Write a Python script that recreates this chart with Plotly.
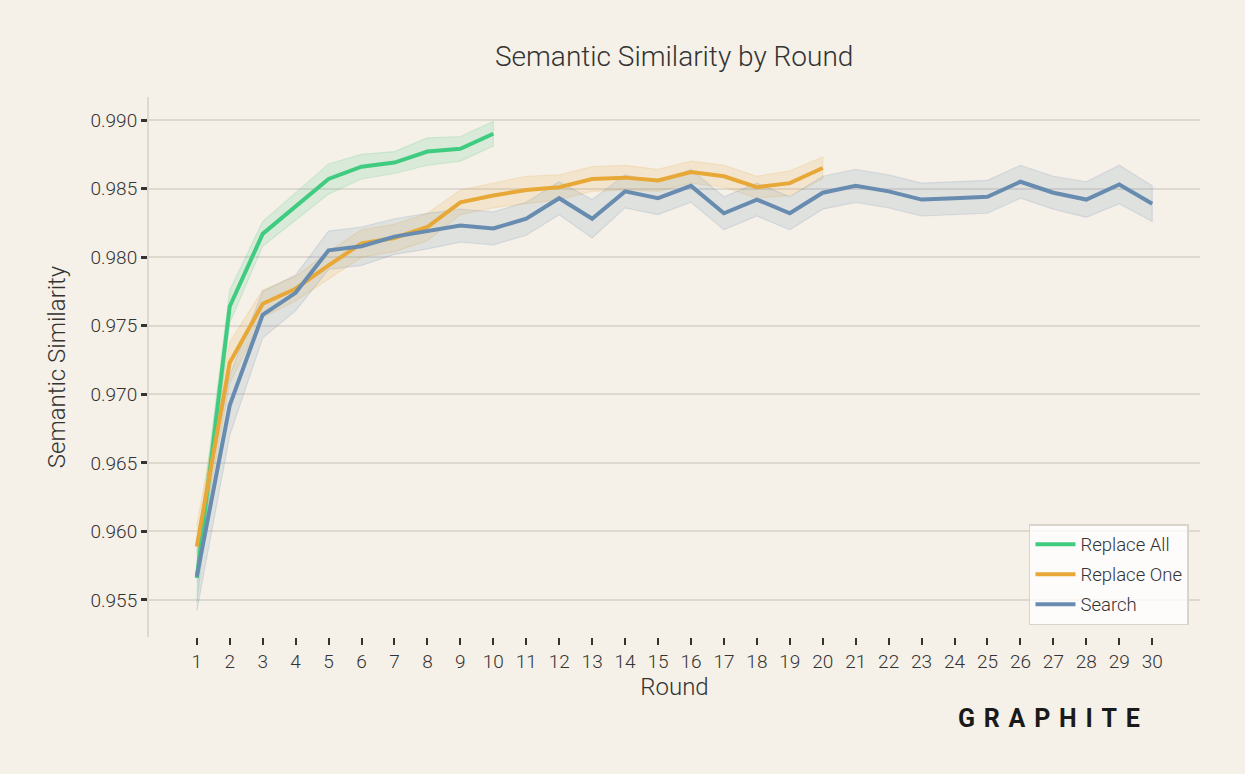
import plotly.graph_objects as go

rounds_all = list(range(1, 11))
rounds_one = list(range(1, 21))
rounds_search = list(range(1, 31))

replace_all = [0.9566, 0.9764, 0.9817, 0.9837, 0.9857, 0.9866, 0.9869, 0.9877, 0.9879, 0.9890]
replace_all_err = [0.0018, 0.0012, 0.0009, 0.0010, 0.0011, 0.0009, 0.0008, 0.0010, 0.0009, 0.0009]

replace_one = [0.9589, 0.9723, 0.9766, 0.9777, 0.9794, 0.9810, 0.9814, 0.9822, 0.9840, 0.9845,
               0.9849, 0.9851, 0.9857, 0.9858, 0.9856, 0.9862, 0.9859, 0.9851, 0.9854, 0.9865]
replace_one_err = [0.0015, 0.0015, 0.0010, 0.0009, 0.0010, 0.0010, 0.0010, 0.0010, 0.0009, 0.0009,
                   0.0010, 0.0009, 0.0009, 0.0009, 0.0008, 0.0008, 0.0008, 0.0008, 0.0009, 0.0008]

search = [0.9567, 0.9692, 0.9758, 0.9774, 0.9805, 0.9808, 0.9815, 0.9819, 0.9823, 0.9821,
          0.9828, 0.9843, 0.9828, 0.9848, 0.9843, 0.9852, 0.9832, 0.9842, 0.9832, 0.9847,
          0.9852, 0.9848, 0.9842, 0.9843, 0.9844, 0.9855, 0.9847, 0.9842, 0.9853, 0.9839]
search_err = [0.0025, 0.0022, 0.0017, 0.0013, 0.0014, 0.0014, 0.0013, 0.0013, 0.0012, 0.0012,
              0.0012, 0.0012, 0.0014, 0.0012, 0.0012, 0.0012, 0.0012, 0.0012, 0.0012, 0.0012,
              0.0012, 0.0012, 0.0012, 0.0012, 0.0012, 0.0012, 0.0012, 0.0013, 0.0014, 0.0013]

y_ticks = [0.955, 0.960, 0.965, 0.970, 0.975, 0.980, 0.985, 0.990]

series = [
    ("Replace All", rounds_all, replace_all, replace_all_err, (64, 204, 128)),
    ("Replace One", rounds_one, replace_one, replace_one_err, (232, 168, 56)),
    ("Search", rounds_search, search, search_err, (104, 140, 176)),
]

BG = "#f5f0e8"
TEXT = "#333333"
GRID = "#ddd8d0"
FONT = "Roboto"

fig = go.Figure()

for name, xs, ys, err, (r, g, b) in series:
    upper = [v + e for v, e in zip(ys, err)]
    lower = [v - e for v, e in zip(ys, err)]
    fig.add_trace(go.Scatter(
        x=xs + xs[::-1], y=upper + lower[::-1],
        fill="toself", fillcolor=f"rgba({r},{g},{b},0.15)",
        line=dict(color=f"rgba({r},{g},{b},0.18)", width=1.2),
        mode="lines", showlegend=False, hoverinfo="skip",
    ))

for name, xs, ys, err, (r, g, b) in series:
    fig.add_trace(go.Scatter(
        x=xs, y=ys, mode="lines", name=name, legendgroup=name,
        line=dict(color=f"rgb({r},{g},{b})", width=4),
    ))

fig.update_layout(
    width=1245, height=774,
    paper_bgcolor=BG, plot_bgcolor=BG,
    margin=dict(l=149, r=45, t=97, b=137),
    font=dict(family=FONT, color=TEXT, size=18, weight=300),
    title=dict(text="Semantic Similarity by Round", x=0.5415, xanchor="center",
               y=1 - 56 / 774, yanchor="middle",
               font=dict(size=28, color=TEXT, family=FONT, weight=300)),
    showlegend=True,
    legend=dict(
        x=0.9895, xanchor="right", y=0.022, yanchor="bottom",
        bgcolor="rgba(255,255,255,0.8)", bordercolor="#d8d4cc", borderwidth=1.5,
        font=dict(size=18.5, color=TEXT, family=FONT, weight=300),
        tracegroupgap=3, itemwidth=40,
    ),
    xaxis=dict(
        range=[-0.45, 31.45], tickmode="array", tickvals=rounds_search,
        ticktext=[str(v) for v in rounds_search],
        showgrid=False, zeroline=False, showline=False,
        ticks="outside", ticklen=7, tickwidth=1.5, tickcolor=TEXT,
        tickfont=dict(size=19, color=TEXT),
        title=dict(text="Round", font=dict(size=24, color=TEXT), standoff=6),
    ),
    yaxis=dict(
        range=[0.9523, 0.99168], tickmode="array", tickvals=y_ticks,
        ticktext=[f"{v:.3f}" for v in y_ticks],
        showgrid=True, gridcolor=GRID, gridwidth=1.5, zeroline=False,
        showline=True, linecolor=GRID, linewidth=2,
        ticks="outside", ticklen=6, tickwidth=2.5, tickcolor=TEXT,
        tickfont=dict(size=19, color=TEXT),
        title=dict(text="Semantic Similarity", font=dict(size=24, color=TEXT), standoff=18),
    ),
    annotations=[dict(
        text="<b>G\u00a0\u200aR\u00a0\u200aA\u00a0\u200aP\u00a0\u200aH\u00a0\u200aI\u00a0\u200aT\u00a0\u200aE</b>",
        xref="paper", yref="paper", x=(1049 - 149) / 1051, y=-(718 - 637) / 540,
        xanchor="center", yanchor="middle", showarrow=False,
        font=dict(size=25, color="#1a1a1a", family=FONT, weight=900),
    )],
)

fig.write_html("out.html")
